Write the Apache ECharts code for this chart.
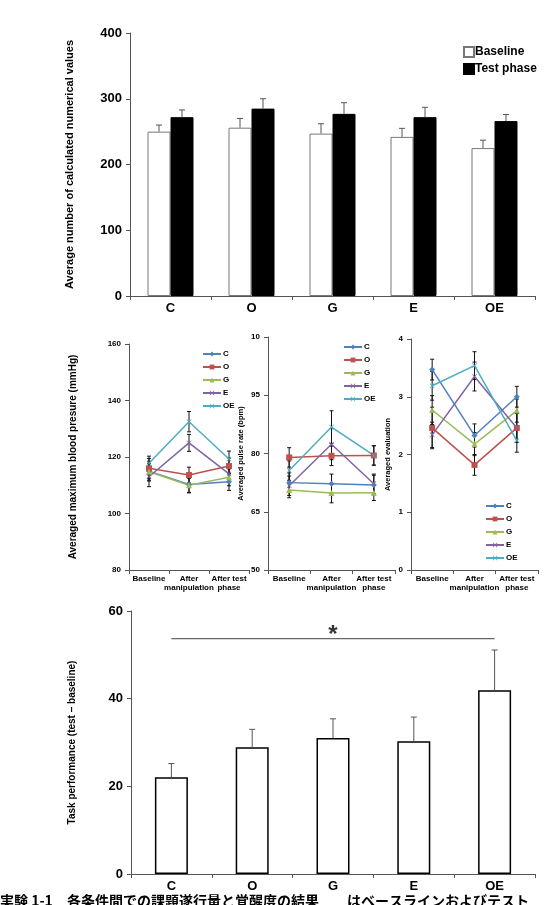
<!DOCTYPE html>
<html><head><meta charset="utf-8">
<script src="https://cdn.jsdelivr.net/npm/echarts@6/dist/echarts.min.js"></script>
<style>html,body{margin:0;padding:0;background:#fff}#c{width:552px;height:905px}</style>
</head><body><div id="c"></div>
<script>
// ---- Panel A: calculation task ----
const groups = ['C', 'O', 'G', 'E', 'OE'];
const baselineVals = [250, 256, 247, 242, 225];
const baselineErr = [10, 14, 15, 13, 12];
const testVals = [272, 285, 277, 272, 266];
const testErr = [11, 15, 17, 15, 10];
const seriesNamesTop = ['Baseline', 'Test phase'];

// ---- Middle panels ----
const phases = ['Baseline', 'After\nmanipulation', 'After test\nphase'];
const lineGroups = ['C', 'O', 'G', 'E', 'OE'];
const bpVals = {
  C: [115, 110.3, 111.2], O: [116, 113.6, 116.8], G: [114.8, 110, 112.8],
  E: [113, 125, 114], OE: [117.8, 132.5, 119.3]
};
const bpErr = {
  C: [3.5, 3, 3], O: [3.5, 2.8, 2.8], G: [3, 2.5, 3], E: [3.5, 3, 3], OE: [2.5, 3.6, 2.8]
};
const pulseVals = {
  C: [72.5, 72.2, 71.9], O: [79.0, 79.4, 79.5], G: [70.6, 69.8, 69.9],
  E: [71.7, 82.4, 72.2], OE: [75.6, 86.8, 79.5]
};
const pulseErr = {
  C: [2.5, 2.5, 2.5], O: [2.5, 2.5, 2.5], G: [2, 2.5, 2], E: [2.5, 4, 2.5], OE: [2.5, 4.2, 2.5]
};
const pulseTickLabels = { 50: '50', 65: '65', 80: '80', 95: '95', 110: '10' };
const evalVals = {
  C: [3.47, 2.33, 3.0], O: [2.46, 1.82, 2.46], G: [2.77, 2.18, 2.76],
  E: [2.34, 3.35, 2.46], OE: [3.19, 3.54, 2.24]
};
const evalErr = {
  C: [0.18, 0.2, 0.18], O: [0.36, 0.18, 0.25], G: [0.25, 0.2, 0.2], E: [0.22, 0.25, 0.25], OE: [0.25, 0.24, 0.2]
};

// ---- Bottom panel: task performance ----
const perfVals = [22.1, 28.9, 31.0, 30.3, 41.9];
const perfErr = [3.1, 4.1, 4.4, 5.5, 9.2];
const sigLevel = 53.7;
const sigStar = '*';
const caption = '実験 1-1　各条件間での課題遂行量と覚醒度の結果　　はベースラインおよびテスト';

const lineColors = { C: '#4F81BD', O: '#C0504D', G: '#9BBB59', E: '#8064A2', OE: '#4BACC6' };
const xPath = 'path://M0 1L1 0L5 4L9 0L10 1L6 5L10 9L9 10L5 6L1 10L0 9L4 5Z';
const lineSymbols = { C: 'diamond', O: 'rect', G: 'triangle', E: xPath, OE: xPath };
const FONT = 'Liberation Sans';
const axisCol = '#555';

function errRender(offsetPx, upperOnly, color, capW) {
  return function (params, api) {
    const x = api.value(0), y = api.value(1), e = api.value(2);
    const p = api.coord([x, y]);
    const t = api.coord([x, y + e]);
    const b = upperOnly ? p : api.coord([x, y - e]);
    const cx = p[0] + offsetPx;
    const st = { stroke: color, lineWidth: 1 };
    const ch = [
      { type: 'line', shape: { x1: cx, y1: t[1], x2: cx, y2: b[1] }, style: st },
      { type: 'line', shape: { x1: cx - capW, y1: t[1], x2: cx + capW, y2: t[1] }, style: st }
    ];
    if (!upperOnly) ch.push({ type: 'line', shape: { x1: cx - capW, y1: b[1], x2: cx + capW, y2: b[1] }, style: st });
    return { type: 'group', children: ch };
  };
}

const chart = echarts.init(document.getElementById('c'), null, { renderer: 'canvas' });

const grids = [
  { left: 130, right: 17, top: 33, height: 263 },
  { left: 129, width: 120, top: 344, height: 226 },
  { left: 268, width: 127, top: 337, height: 233 },
  { left: 411, width: 127, top: 339, height: 231 },
  { left: 131, width: 404, top: 611, height: 263 }
];

const bigLabel = { fontFamily: FONT, fontWeight: 'bold', fontSize: 13, color: '#000' };
const smallLabel = { fontFamily: FONT, fontWeight: 'bold', fontSize: 8, color: '#000' };
const axLine = { show: true, lineStyle: { color: axisCol, width: 1 } };

function catAxis(gi, data, lbl, margin) {
  return {
    type: 'category', gridIndex: gi, data: data,
    axisLine: axLine, axisTick: { show: true, length: 4, lineStyle: { color: axisCol } },
    axisLabel: Object.assign({ margin: margin, lineHeight: 9, interval: 0, hideOverlap: false }, lbl)
  };
}
function valAxis(gi, min, max, interval, name, nameGap, nameSize, lbl, fmt) {
  return {
    type: 'value', gridIndex: gi, min: min, max: max, interval: interval,
    splitLine: { show: false }, axisLine: axLine,
    axisTick: { show: true, length: 4, lineStyle: { color: axisCol } },
    axisLabel: Object.assign({ margin: 8, formatter: fmt }, lbl),
    name: name, nameLocation: 'middle', nameRotate: 90, nameGap: nameGap,
    nameTextStyle: { fontFamily: FONT, fontWeight: 'bold', fontSize: nameSize, color: '#000' }
  };
}

const xAxes = [
  catAxis(0, groups, bigLabel, 8),
  catAxis(1, phases, smallLabel, 4),
  catAxis(2, phases, smallLabel, 4),
  catAxis(3, phases, smallLabel, 4),
  catAxis(4, groups, bigLabel, 8)
];
const yAxes = [
  valAxis(0, 0, 400, 100, 'Average number of calculated numerical values', 55, 11, bigLabel),
  valAxis(1, 80, 160, 20, 'Averaged maximum blood presure (mmHg)', 51, 10, smallLabel),
  valAxis(2, 50, 110, 15, 'Averaged pulse rate (bpm)', 23, 7.5, smallLabel, v => pulseTickLabels[v] ?? String(v)),
  valAxis(3, 0, 4, 1, 'Averaged evaluation', 19, 7.5, smallLabel),
  valAxis(4, 0, 60, 20, 'Task performance (test \u2013 baseline)', 54, 10, bigLabel)
];

const series = [];
// top bars
series.push({
  name: seriesNamesTop[0], type: 'bar', xAxisIndex: 0, yAxisIndex: 0, barWidth: 23, barGap: '0%',
  data: baselineVals, itemStyle: { color: '#fff', borderColor: '#777', borderWidth: 1 }
});
series.push({
  name: seriesNamesTop[1], type: 'bar', xAxisIndex: 0, yAxisIndex: 0, barWidth: 23, barGap: '0%',
  data: testVals, itemStyle: { color: '#000', borderColor: '#000', borderWidth: 1 }
});
series.push({
  name: 'errBase', type: 'custom', xAxisIndex: 0, yAxisIndex: 0, z: 5,
  renderItem: errRender(-11.5, true, '#555', 3),
  data: baselineVals.map((v, i) => [i, v, baselineErr[i]])
});
series.push({
  name: 'errTest', type: 'custom', xAxisIndex: 0, yAxisIndex: 0, z: 5,
  renderItem: errRender(11.5, true, '#555', 3),
  data: testVals.map((v, i) => [i, v, testErr[i]])
});

// middle panels
const middle = [[1, bpVals, bpErr], [2, pulseVals, pulseErr], [3, evalVals, evalErr]];
middle.forEach(([gi, vals, errs]) => {
  lineGroups.forEach(g => {
    series.push({
      name: 'err' + gi + g, type: 'custom', xAxisIndex: gi, yAxisIndex: gi, z: 1,
      renderItem: errRender(0, false, '#111', 2),
      data: vals[g].map((v, i) => [i, v, errs[g][i]])
    });
  });
  lineGroups.forEach(g => {
    series.push({
      name: g, type: 'line', xAxisIndex: gi, yAxisIndex: gi, z: 3,
      data: vals[g], symbol: lineSymbols[g], symbolSize: (g === 'E' || g === 'OE') ? 5 : 6,
      lineStyle: { color: lineColors[g], width: 1.5 },
      itemStyle: { color: lineColors[g] }
    });
  });
});

// bottom
series.push({
  name: 'perf', type: 'bar', xAxisIndex: 4, yAxisIndex: 4, barWidth: 33,
  data: perfVals, itemStyle: { color: '#fff', borderColor: '#000', borderWidth: 1.5 }
});
series.push({
  name: 'perfErr', type: 'custom', xAxisIndex: 4, yAxisIndex: 4, z: 5,
  renderItem: errRender(0, true, '#555', 3),
  data: perfVals.map((v, i) => [i, v, perfErr[i]])
});
series.push({
  name: 'sig', type: 'line', xAxisIndex: 4, yAxisIndex: 4, symbol: 'none',
  lineStyle: { color: '#666', width: 1.2 },
  data: [[groups[0], sigLevel], [groups[4], sigLevel]]
});
series.push({
  name: 'star', type: 'scatter', xAxisIndex: 4, yAxisIndex: 4, symbolSize: 0,
  data: [[groups[2], sigLevel]],
  label: { show: true, formatter: sigStar, position: 'top', distance: -9, fontFamily: FONT, fontWeight: 'bold', fontSize: 24, color: '#000' }
});

const midLegend = (left, top) => ({
  data: lineGroups, orient: 'vertical', left: left, top: top, itemWidth: 18, itemHeight: 6, itemGap: 5,
  textStyle: { fontFamily: FONT, fontWeight: 'bold', fontSize: 8, color: '#000', padding: [0, 0, 0, -3] },
  selectedMode: false
});

chart.setOption({
  animation: false,
  grid: grids,
  xAxis: xAxes,
  yAxis: yAxes,
  legend: [
    {
      data: seriesNamesTop, orient: 'vertical', left: 458, top: 41, itemWidth: 10, itemHeight: 10, itemGap: 5,
      textStyle: { fontFamily: FONT, fontWeight: 'bold', fontSize: 12, color: '#000', padding: [0, 0, 0, -4] },
      selectedMode: false, icon: 'rect'
    },
    midLegend(197, 345),
    midLegend(338, 338),
    midLegend(480, 497)
  ],
  series: series,
  graphic: [{
    type: 'text', left: 0, top: 894,
    style: { text: caption, font: 'bold 14px "Noto Sans CJK JP"', fill: '#000' }
  }]
});
</script></body></html>
